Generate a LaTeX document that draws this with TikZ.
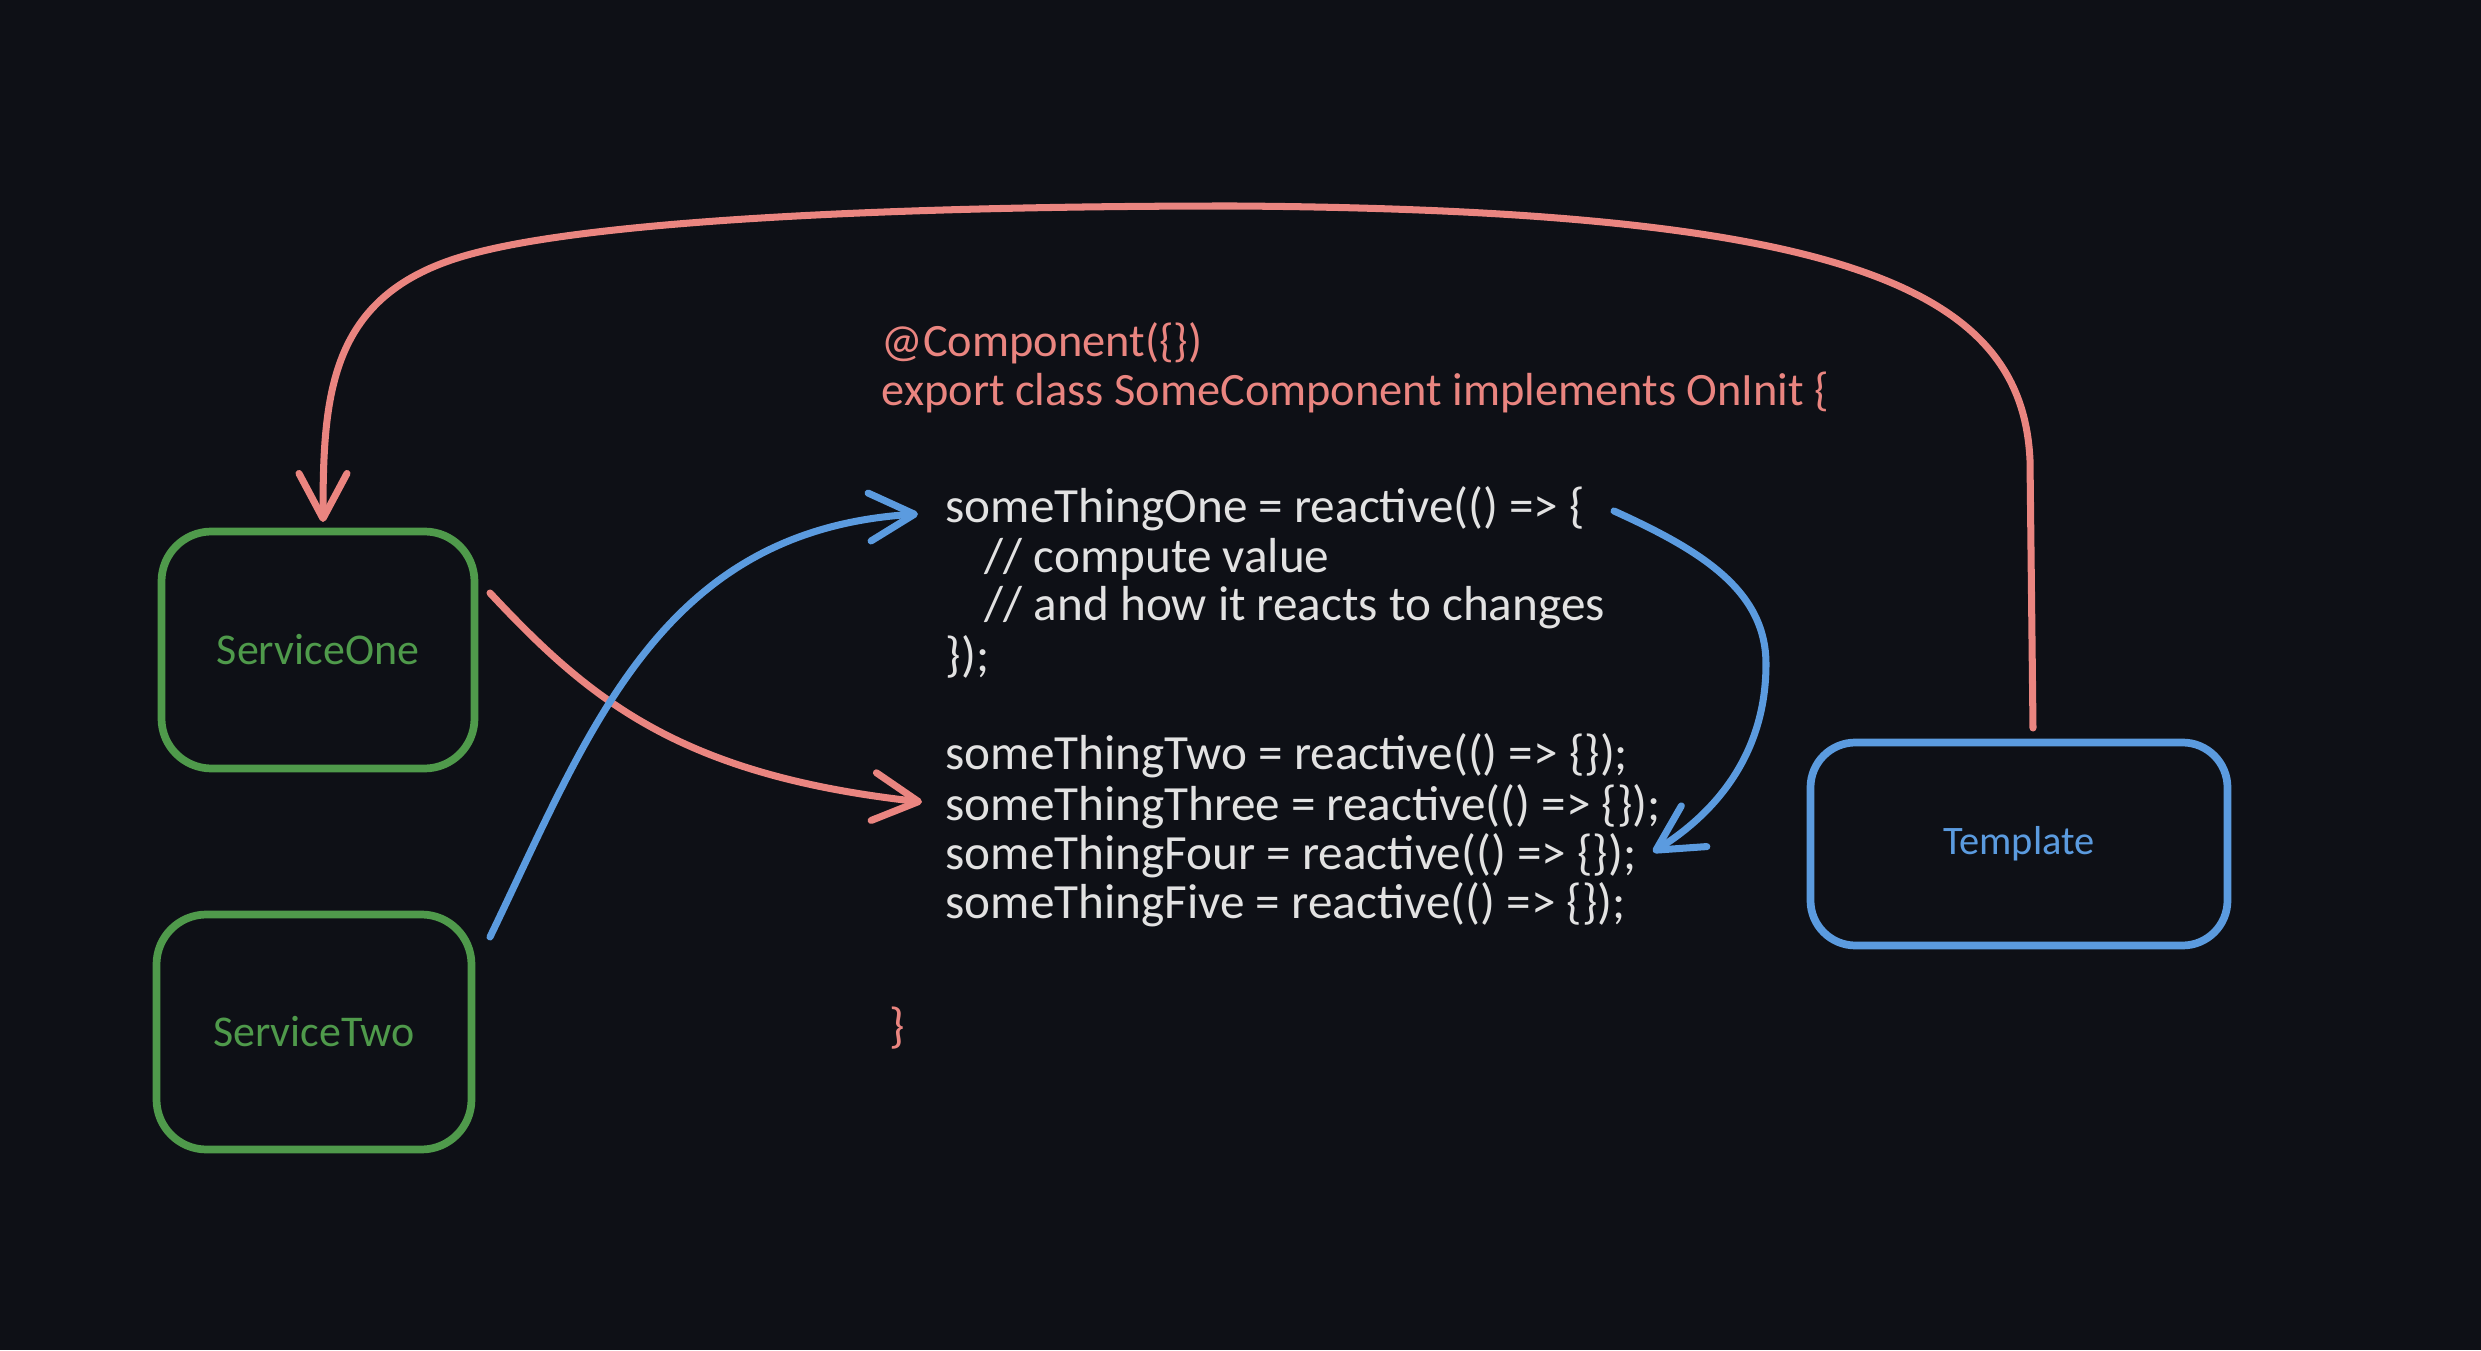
\documentclass[tikz,border=0pt]{standalone}
\usepackage{fontspec}
\setmainfont{Carlito}
\usetikzlibrary{arrows.meta}

\definecolor{bgdark}{HTML}{0E1016}
\definecolor{salmon}{HTML}{EA8580}
\definecolor{leaf}{HTML}{4F9A4B}
\definecolor{sky}{HTML}{5B9BDF}
\definecolor{chalk}{HTML}{E2E2E2}

\begin{document}
\begin{tikzpicture}[
		box/.style={draw, line width=2.2pt, rounded corners=0.5cm, font=\fontsize{12.5}{15}\selectfont},
		codeline/.style={anchor=west, inner sep=0pt, text=chalk, font=\fontsize{14}{16}\selectfont},
		wire/.style={line width=2pt, line cap=round, -{Straight Barb[length=4.5mm,width=4.8mm,round]}}
	]
	\fill[bgdark] (0,0) rectangle (24.81,13.5);

	% boxes
	\node[box, leaf, minimum width=3.13cm, minimum height=2.37cm] (serviceOne) at (3.18,7.00) {ServiceOne};
	\node[box, leaf, minimum width=3.15cm, minimum height=2.35cm] (serviceTwo) at (3.14,3.18) {ServiceTwo};
	\node[box, sky, rounded corners=0.45cm, minimum width=4.17cm, minimum height=2.03cm, font=\fontsize{11.5}{14}\selectfont] (template) at (20.19,5.06) {Template};

	% code
	\node[codeline, text=salmon, font=\fontsize{13.2}{15}\selectfont] (decorator) at (8.81,10.07) {@Component(\{\})};
	\node[codeline, text=salmon, font=\fontsize{13.2}{15}\selectfont] (classline) at (8.81,9.58) {export class SomeComponent implements OnInit \{};
	\node[codeline] (one) at (9.45,8.41) {someThingOne = reactive(() => \{};
	\node[codeline] (oneA) at (9.84,7.91) {// compute value};
	\node[codeline] (oneB) at (9.84,7.42) {// and how it reacts to changes};
	\node[codeline] (oneC) at (9.45,6.93) {\});};
	\node[codeline] (two) at (9.45,5.94) {someThingTwo = reactive(() => \{\});};
	\node[codeline] (three) at (9.45,5.43) {someThingThree = reactive(() => \{\});};
	\node[codeline] (four) at (9.45,4.94) {someThingFour = reactive(() => \{\});};
	\node[codeline] (five) at (9.45,4.45) {someThingFive = reactive(() => \{\});};
	\node[codeline, text=salmon] (closing) at (8.89,3.22) {\}};

	\coordinate (tplTop) at (20.33,6.22);
	\coordinate (bend) at (20.30,8.90);
	\coordinate (peak) at (12.34,11.44);
	\coordinate (turn) at (4.75,10.97);
	\coordinate (svcTop) at (3.23,8.28);

	\draw[wire, salmon] (tplTop) -- (bend)
		.. controls (20.22,10.6) and (18.5,11.4) .. (peak)
		.. controls (9,11.44) and (6,11.3) .. (turn)
		.. controls (3.3,10.6) and (3.23,9.6) .. (svcTop);

	\coordinate (oneOut) at (4.90,7.57);
	\coordinate (threeIn) at (9.22,5.48);
	\draw[wire, salmon] (oneOut) .. controls (5.9,6.5) and (6.8,5.75) .. (threeIn);

	\coordinate (twoOut) at (4.90,4.13);
	\coordinate (oneIn) at (9.18,8.36);
	\draw[wire, sky] (twoOut) .. controls (5.9,6.2) and (6.6,8.2) .. (oneIn);

	\coordinate (oneOutR) at (16.14,8.39);
	\coordinate (side) at (17.66,6.86);
	\coordinate (fourIn) at (16.53,4.98);
	\draw[wire, sky] (oneOutR) .. controls (17.0,8.0) and (17.66,7.6) .. (side)
		.. controls (17.66,6.0) and (17.2,5.4) .. (fourIn);
\end{tikzpicture}
\end{document}
